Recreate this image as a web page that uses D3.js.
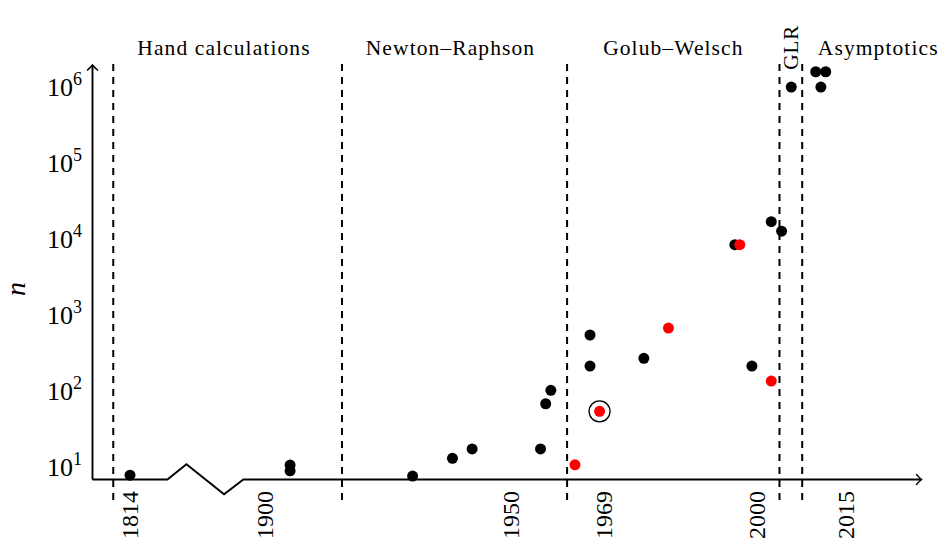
<!DOCTYPE html>
<html><head><meta charset="utf-8">
<script src="https://cdn.jsdelivr.net/npm/d3@7"></script>
<style>
html,body{margin:0;padding:0;background:#fff;}
svg{display:block;font-family:"Liberation Serif","Times New Roman",serif;}
</style>
</head><body><svg id="chart" width="941" height="540"></svg>
<script>
// ---- data ----
const blackYears = [1814, 1905.1, 1905.1, 1930.0, 1938.1, 1942.1, 1956.0, 1957.05, 1958.1, 1966.06, 1966.06, 1977.0, 1995.5, 1998.96, 2002.9, 2005.0, 2006.5, 2010.3, 2011.85, 2011.1];
const blackN     = [7.8, 10.6, 8.9, 7.6, 13.0, 17.3, 17.3, 68, 102, 546, 213, 269, 8420, 213, 16900, 12700, 1.0e6, 1.59e6, 1.59e6, 1.0e6];
const redYears   = [1963.0, 1968.0, 1982.0, 1996.5, 2002.9];
const redN       = [10.7, 54, 674, 8420, 135];
const circledYears = [1968.0];
const circledN     = [54];
const eraNames = ["Hand calculations", "Newton–Raphson", "Golub–Welsch", "GLR", "Asymptotics"];
const eraLabelYears = [1878.1, 1937.7, 1983.0, 2006.3, 2020.0];
const eraBoundaryYears = [1810.6, 1915.65, 1961.4, 2004.57, 2008.2];
const xTickYears = [1814, 1900, 1950, 1969, 2000, 2015];
const xTickLabels = ["1814", "1900", "1950", "1969", "2000", "2015"];
const yTickValues = [1e1, 1e2, 1e3, 1e4, 1e5, 1e6];
const yTickExponents = ["1", "2", "3", "4", "5", "6"];
const axisBreakYears = [1821.6, 1895.6];

// ---- layout ----
const svg = d3.select("#chart");
const y0 = 479.5, yTop = 65, yAxisX = 92.5, xEnd = 921.5;

// broken (piecewise) time scale
const x = d3.scaleLinear()
  .domain([1810, 1822, 1895, 2005, 2015])
  .range([110.3, 169.4, 240.4, 781.6, 846]);
const y = d3.scaleLog().domain([6.85, 1.95e6]).range([y0, yTop]);

// era dashed separators
svg.append("g").selectAll("line").data(eraBoundaryYears).join("line")
  .attr("x1", d => x(d)).attr("x2", d => x(d))
  .attr("y1", 64).attr("y2", 502)
  .attr("stroke", "#000").attr("stroke-width", 2)
  .attr("stroke-dasharray", "7,6");

// era labels
const eraG = svg.append("g").attr("font-size", 21.5).attr("fill", "#000");
eraNames.forEach((name, i) => {
  if (name === "GLR") {
    eraG.append("text")
      .attr("transform", `translate(${x(eraLabelYears[i])},47.5) rotate(-90)`)
      .attr("text-anchor", "middle").attr("dy", "0.35em")
      .attr("letter-spacing", 0.5)
      .text(name);
  } else {
    eraG.append("text")
      .attr("x", x(eraLabelYears[i])).attr("y", 54.5)
      .attr("text-anchor", "middle")
      .attr("letter-spacing", 1.1)
      .text(name);
  }
});

// axes
const xs = x(axisBreakYears[0]), xe = x(axisBreakYears[1]);
svg.append("path")
  .attr("d", `M${yAxisX},${y0} L${xs},${y0} L${xs + 19},${y0 - 15.2} L${xe - 19.3},${y0 + 14.8} L${xe},${y0} L${xEnd},${y0}`)
  .attr("fill", "none").attr("stroke", "#000").attr("stroke-width", 1.9).attr("stroke-linejoin", "miter");
svg.append("path")
  .attr("d", `M${yAxisX},${y0} L${yAxisX},${yTop}`)
  .attr("fill", "none").attr("stroke", "#000").attr("stroke-width", 1.9);
// arrow heads
svg.append("path")
  .attr("d", `M${xEnd - 5},${y0 - 5} Q${xEnd - 1.5},${y0 - 1} ${xEnd},${y0} Q${xEnd - 1.5},${y0 + 1} ${xEnd - 5},${y0 + 5}`)
  .attr("fill", "none").attr("stroke", "#000").attr("stroke-width", 1.5).attr("stroke-linecap", "round");
svg.append("path")
  .attr("d", `M${yAxisX - 5},${yTop + 5} Q${yAxisX - 1},${yTop + 1.5} ${yAxisX},${yTop} Q${yAxisX + 1},${yTop + 1.5} ${yAxisX + 5},${yTop + 5}`)
  .attr("fill", "none").attr("stroke", "#000").attr("stroke-width", 1.5).attr("stroke-linecap", "round");

// y tick labels
const yt = svg.append("g").attr("fill", "#000");
yTickValues.forEach((v, i) => {
  const t = yt.append("text")
    .attr("x", 82).attr("y", y(v) + 8.5)
    .attr("text-anchor", "end").attr("font-size", 26);
  t.append("tspan").text("10");
  t.append("tspan").attr("font-size", 18).attr("dy", -11).text(yTickExponents[i]);
});

// x tick labels
svg.append("g").selectAll("text").data(xTickYears).join("text")
  .attr("transform", d => `translate(${x(d)},491) rotate(-90)`)
  .attr("text-anchor", "end").attr("dy", "0.33em")
  .attr("font-size", 24).attr("fill", "#000")
  .text((d, i) => xTickLabels[i]);

// y axis label
svg.append("text")
  .attr("transform", "translate(16.5,289) rotate(-90)")
  .attr("text-anchor", "middle").attr("dy", "0.3em")
  .attr("font-size", 28).attr("font-style", "italic")
  .text("n");

// points
svg.append("g").selectAll("circle").data(blackYears).join("circle")
  .attr("cx", d => x(d)).attr("cy", (d, i) => y(blackN[i]))
  .attr("r", 5.5).attr("fill", "#000");
svg.append("g").selectAll("circle").data(redYears).join("circle")
  .attr("cx", d => x(d)).attr("cy", (d, i) => y(redN[i]))
  .attr("r", 5.5).attr("fill", "#ff0000");
svg.append("g").selectAll("circle").data(circledYears).join("circle")
  .attr("cx", d => x(d)).attr("cy", (d, i) => y(circledN[i]))
  .attr("r", 10.5).attr("fill", "none").attr("stroke", "#000").attr("stroke-width", 1.3);
</script>
</body></html>
